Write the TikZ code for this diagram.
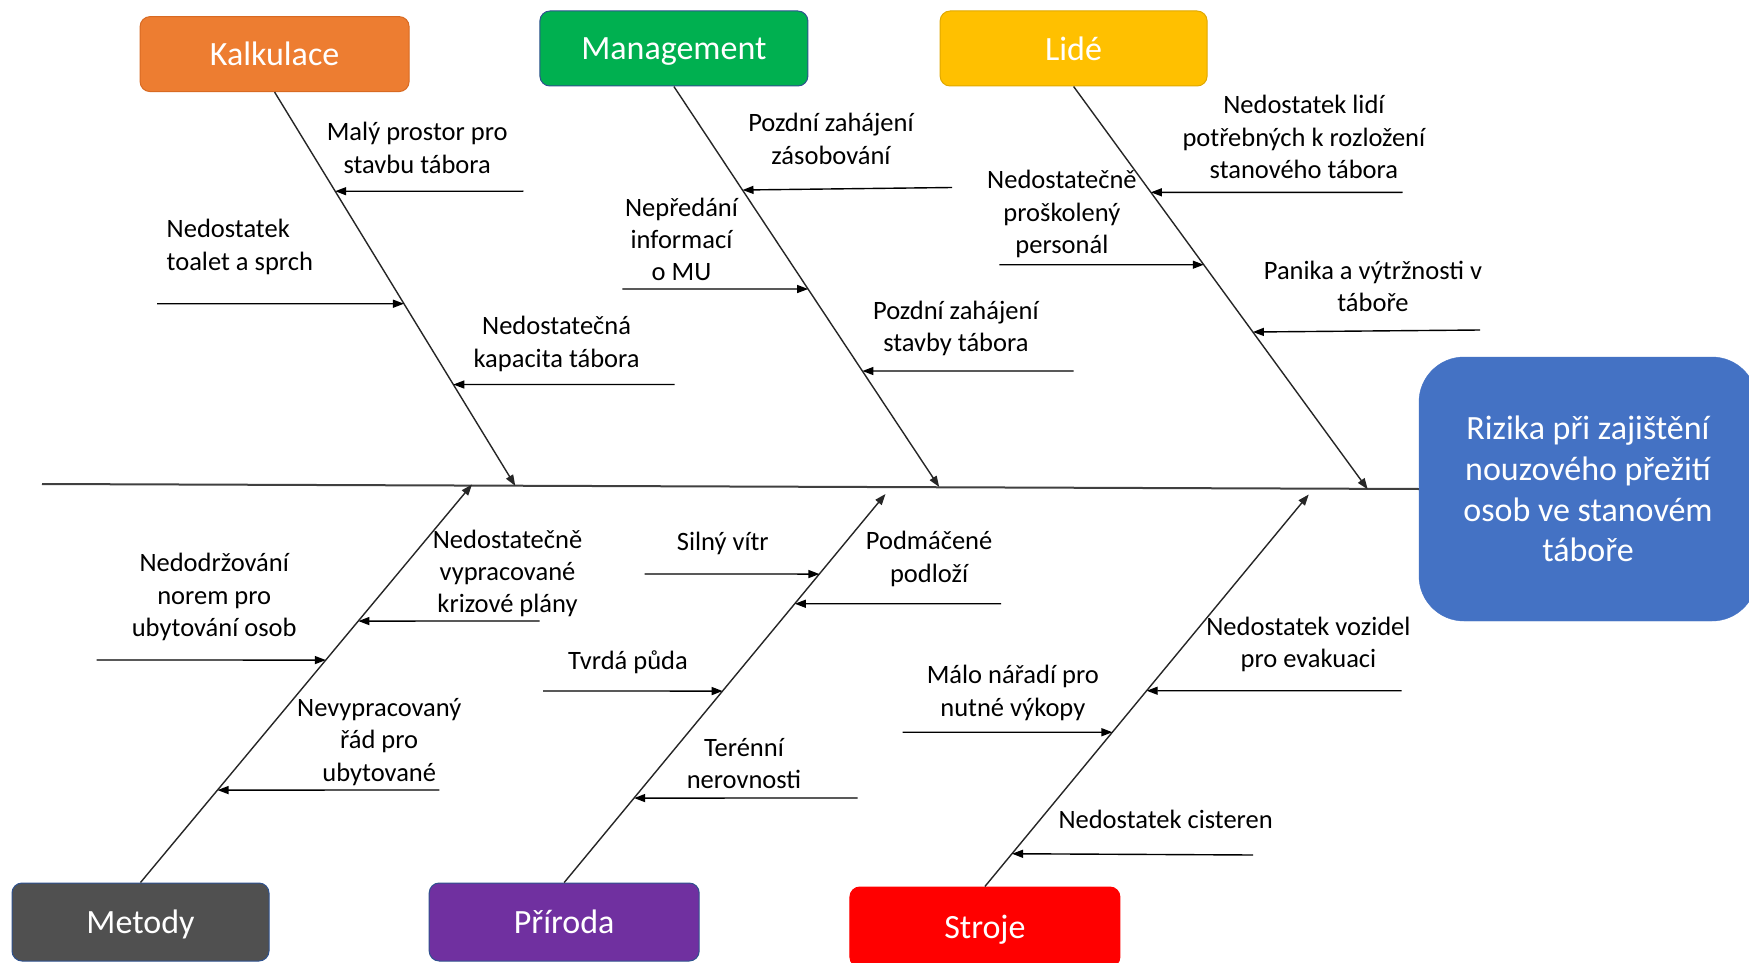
\documentclass[tikz,border=0pt]{standalone}
\usepackage{fontspec}
\setmainfont{Carlito}
\usetikzlibrary{arrows.meta}
\definecolor{cOrange}{HTML}{ED7D31}
\definecolor{cOrangeD}{HTML}{D86A22}
\definecolor{cGreen}{HTML}{00B050}
\definecolor{cGold}{HTML}{FFC000}
\definecolor{cGoldD}{HTML}{E0A800}
\definecolor{cGray}{HTML}{505050}
\definecolor{cPurple}{HTML}{7030A0}
\definecolor{cRed}{HTML}{FF0000}
\definecolor{cBlue}{HTML}{4472C4}
\definecolor{cEdge}{HTML}{2F528F}
\definecolor{cSpine}{HTML}{404040}
\begin{document}
\begin{tikzpicture}[x=1pt,y=-1pt,
  catbox/.style={rounded corners=10pt, inner sep=0pt, text=white, line width=1pt,
    text depth=0pt, font=\fontsize{34}{41}\selectfont},
  lbl/.style={inner sep=0pt, align=center, font=\fontsize{26.5}{32.4}\selectfont},
  bone/.style={line width=1.4pt, draw=black!85, -{Triangle[length=11pt,width=8pt]}},
  sub/.style={line width=1.4pt, draw=black, -{Triangle[length=11pt,width=8pt]}},
  spine/.style={line width=2pt, draw=cSpine}
]
\useasboundingbox (0,0) rectangle (1749,963);
\fill[white] (0,0) rectangle (1749,963);

% category boxes
\node[catbox, fill=cOrange, draw=cOrangeD, minimum width=269pt, minimum height=75pt] (kalk) at (274.6,54.1) {Kalkulace};
\node[catbox, fill=cGreen, draw=cEdge, minimum width=268pt, minimum height=75pt] (mgmt) at (673.9,48.5) {Management};
\node[catbox, fill=cGold, draw=cGoldD, minimum width=267pt, minimum height=75pt] (lide) at (1073.6,48.5) {Lidé};
\node[catbox, fill=cGray, draw=cEdge, minimum width=257pt, minimum height=78pt] (metody) at (140.5,922) {Metody};
\node[catbox, fill=cPurple, draw=cEdge, minimum width=270pt, minimum height=78pt] (priroda) at (564.2,922) {Příroda};
\node[catbox, fill=cRed, draw=cRed, minimum width=270pt, minimum height=80pt] (stroje) at (984.9,927) {Stroje};

% effect box
\node[rounded corners=45pt, fill=cBlue, draw=cBlue, inner sep=0pt, minimum width=338pt, minimum height=264pt,
  text=white, align=center, font=\fontsize{34}{40.8}\selectfont] (effect) at (1588,489)
  {Rizika při zajištění\\nouzového přežití\\osob ve stanovém\\táboře};

% spine
\coordinate (sL) at (42,484);
\draw[spine] (sL) -- (effect.west);

% bone ends on the spine
\coordinate (kE) at (515.3,485.9);
\coordinate (mE) at (939.2,487);
\coordinate (lE) at (1367.7,489.3);
\coordinate (dE) at (472,484.5);
\coordinate (pE) at (885.5,494);
\coordinate (sE) at (1308.7,494.5);

\draw[bone] (kalk.south) -- (kE);
\draw[bone] (mgmt.south) -- (mE);
\draw[bone] (lide.south) -- (lE);
\draw[bone] (metody.north) -- (dE);
\draw[bone] (priroda.north) -- (pE);
\draw[bone] (stroje.north) -- (sE);

% ---- Kalkulace
\coordinate (k1s) at (523.3,191.2);
\coordinate (k2s) at (157.2,303.7);
\coordinate (k3s) at (674.5,384.5);
\draw[sub] (k1s) -- (intersection of kalk.south--kE and 0,191.2--10,191.2);
\draw[sub] (k2s) -- (intersection of kalk.south--kE and 0,303.7--10,303.7);
\draw[sub] (k3s) -- (intersection of kalk.south--kE and 0,384.5--10,384.5);
\node[lbl] (k1) at (417.2,147.8) {Malý prostor pro\\stavbu tábora};
\node[lbl, align=left, anchor=west] (k2) at (166.5,247.1) {Nedostatek\\toalet a sprch};
\node[lbl] (k3) at (556.6,344.1) {Nedostatečná\\kapacita tábora};

% ---- Management
\coordinate (m1s) at (952,187.5);
\coordinate (m2s) at (622.4,289);
\coordinate (m3s) at (1073.5,371);
\draw[sub] (m1s) -- (intersection of mgmt.south--mE and 0,190--10,190);
\draw[sub] (m2s) -- (intersection of mgmt.south--mE and 0,289--10,289);
\draw[sub] (m3s) -- (intersection of mgmt.south--mE and 0,371--10,371);
\node[lbl] (m1) at (831,138.9) {Pozdní zahájení\\zásobování};
\node[lbl] (m2) at (681.5,239.4) {Nepředání\\informací\\o MU};
\node[lbl] (m3) at (955.9,328.4) {Pozdní zahájení\\stavby tábora};

% ---- Lidé
\coordinate (l1s) at (1402.5,192.3);
\coordinate (l2s) at (999.4,264.7);
\coordinate (l3s) at (1480,330);
\draw[sub] (l1s) -- (intersection of lide.south--lE and 0,192.3--10,192.3);
\draw[sub] (l2s) -- (intersection of lide.south--lE and 0,264.7--10,264.7);
\draw[sub] (l3s) -- (intersection of lide.south--lE and 0,332--10,332);
\node[lbl] (l1) at (1303.9,137.1) {Nedostatek lidí\\potřebných k rozložení\\stanového tábora};
\node[lbl] (l2) at (1061.9,214) {Nedostatečně\\proškolený\\personál};
\node[lbl] (l3) at (1373,286.2) {Panika a výtržnosti v\\táboře};

% ---- Metody
\coordinate (d1s) at (96.7,660);
\coordinate (d2s) at (539.7,621);
\coordinate (d3s) at (439.4,790);
\draw[sub] (d1s) -- (intersection of metody.north--dE and 0,660--10,660);
\draw[sub] (d2s) -- (intersection of metody.north--dE and 0,621--10,621);
\draw[sub] (d3s) -- (intersection of metody.north--dE and 0,790--10,790);
\node[lbl] (d1) at (214.2,597) {Nedodržování\\norem pro\\ubytování osob};
\node[lbl] (d2) at (507.5,573.5) {Nedostatečně\\vypracované\\krizové plány};
\node[lbl] (d3) at (379.2,742) {Nevypracovaný\\řád pro\\ubytované};

% ---- Příroda
\coordinate (p1s) at (644.7,574);
\coordinate (p2s) at (1001,603.7);
\coordinate (p3s) at (543.2,691);
\coordinate (p4s) at (857.7,798);
\draw[sub] (p1s) -- (intersection of priroda.north--pE and 0,574--10,574);
\draw[sub] (p2s) -- (intersection of priroda.north--pE and 0,603.7--10,603.7);
\draw[sub] (p3s) -- (intersection of priroda.north--pE and 0,691--10,691);
\draw[sub] (p4s) -- (intersection of priroda.north--pE and 0,798--10,798);
\node[lbl] (p1) at (722.8,543.2) {Silný vítr};
\node[lbl] (p2) at (929.1,558.8) {Podmáčené\\podloží};
\node[lbl] (p3) at (628,662.5) {Tvrdá půda};
\node[lbl] (p4) at (744,763.4) {Terénní\\nerovnosti};

% ---- Stroje
\coordinate (s1s) at (1401.5,690.7);
\coordinate (s2s) at (902.5,732.2);
\coordinate (s3s) at (1253,855);
\draw[sub] (s1s) -- (intersection of stroje.north--sE and 0,690.7--10,690.7);
\draw[sub] (s2s) -- (intersection of stroje.north--sE and 0,732.2--10,732.2);
\draw[sub] (s3s) -- (intersection of stroje.north--sE and 0,853.7--10,853.7);
\node[lbl] (s1) at (1308.4,644.7) {Nedostatek vozidel\\pro evakuaci};
\node[lbl] (s2) at (1012.8,693.1) {Málo nářadí pro\\nutné výkopy};
\node[lbl] (s3) at (1165.6,819.8) {Nedostatek cisteren};
\end{tikzpicture}
\end{document}
